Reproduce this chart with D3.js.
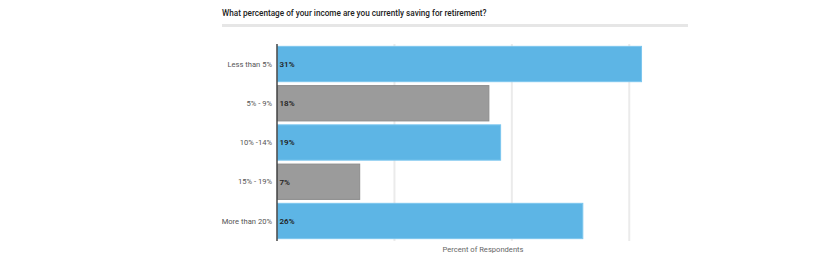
<html>
<head>
  <script src="https://d3js.org/d3.v7.min.js"></script>
  <style>
    body { margin: 0; background: #fff; }
    svg { font-family: Roboto, "Open Sans", sans-serif; }
  </style>
</head>
<body>
  <div id="chart"></div>
<script>
  // chart data
  var categories = ["Less than 5%", "5% - 9%", "10% -14%", "15% - 19%", "More than 20%"];
  var values = [31, 18, 19, 7, 26];
  var barColors = ["#5db5e5", "#9b9b9b", "#5db5e5", "#9b9b9b", "#5db5e5"];
  var gridTicks = [10, 20, 30];
  var title = "What percentage of your income are you currently saving for retirement?";
  var xLabel = "Percent of Respondents";

  var width = 830, height = 262;
  var marginLeft = 277, marginTop = 44, plotW = 411, plotH = 197;

  var svg = d3.select("#chart").append("svg")
    .attr("width", width).attr("height", height);

  // title + rule under it
  svg.append("text").attr("x", 222).attr("y", 16)
    .style("font-size", "8.2px").style("font-weight", 500).style("fill", "#222")
    .text(title);
  svg.append("rect").attr("x", 222).attr("y", 24)
    .attr("width", 466).attr("height", 3).style("fill", "#e6e6e6");

  var x = d3.scaleLinear().domain([0, 35]).range([0, plotW]);
  var y = d3.scaleBand().domain(categories).range([0, plotH]).paddingInner(0.1).paddingOuter(0.06);

  var g = svg.append("g").attr("transform", "translate(" + marginLeft + "," + marginTop + ")");

  // gridlines
  g.selectAll("line.grid").data(gridTicks).enter().append("line")
    .attr("class", "grid")
    .attr("x1", function(d) { return x(d); })
    .attr("x2", function(d) { return x(d); })
    .attr("y1", 0).attr("y2", plotH)
    .attr("stroke", "#ebebeb").attr("stroke-width", 2);

  // bars
  g.selectAll("rect.bar").data(values).enter().append("rect")
    .attr("class", "bar")
    .attr("x", 0.5)
    .attr("y", function(d, i) { return y(categories[i]); })
    .attr("width", function(d) { return x(d); })
    .attr("height", y.bandwidth())
    .style("fill", function(d, i) { return barColors[i]; })
    .style("stroke", function(d, i) { return i % 2 ? "#8c8c8c" : "#7cc6ee"; })
    .style("stroke-width", 1);

  // value labels
  g.selectAll("text.val").data(values).enter().append("text")
    .attr("class", "val")
    .attr("x", 2.5)
    .attr("y", function(d, i) { return y(categories[i]) + y.bandwidth() / 2; })
    .attr("dy", "0.35em")
    .style("font-size", "8px").style("font-weight", 600).style("fill", "#222")
    .text(function(d) { return d + "%"; });

  // category labels
  g.selectAll("text.cat").data(categories).enter().append("text")
    .attr("class", "cat")
    .attr("x", -5)
    .attr("y", function(d) { return y(d) + y.bandwidth() / 2; })
    .attr("dy", "0.35em").attr("text-anchor", "end")
    .style("font-size", "7.6px").style("fill", "#555")
    .text(function(d) { return d; });

  // axis line
  g.append("line").attr("x1", 0).attr("x2", 0).attr("y1", 0).attr("y2", plotH)
    .attr("stroke", "#444").attr("stroke-width", 1.5);

  svg.append("text").attr("x", 483).attr("y", 252)
    .attr("text-anchor", "middle")
    .style("font-size", "7.6px").style("fill", "#666")
    .text(xLabel);
</script>
</body>
</html>
